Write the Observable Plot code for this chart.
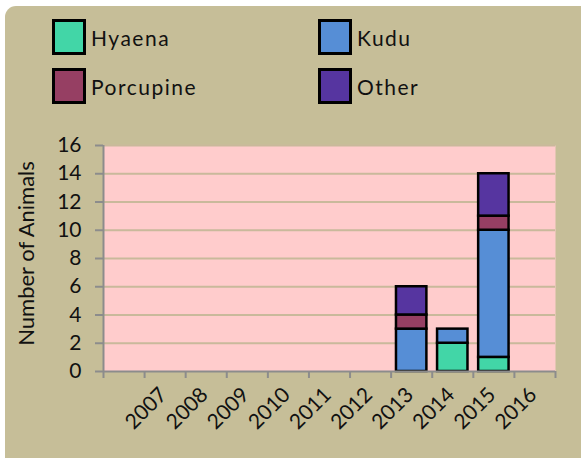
<!DOCTYPE html>
<html>
<head>
<meta charset="utf-8">
<script src="https://cdn.jsdelivr.net/npm/d3@7"></script>
<script src="https://cdn.jsdelivr.net/npm/@observablehq/plot@0.6"></script>
<style>
  html, body { margin: 0; padding: 0; background: #ffffff; width: 581px; height: 458px; overflow: hidden; }
  #panel { position: absolute; left: 5px; top: 6px; width: 576px; height: 452px; background: #C6BE98; border-radius: 11px 0 0 0; }
  #chart { position: absolute; left: 0; top: 0; }
  .lg { position: absolute; display: flex; align-items: center; font-family: Lato, "Open Sans", sans-serif; font-size: 21px; letter-spacing: 1.5px; color: #111; }
  .sw { width: 28px; height: 30px; border: 3px solid #000; margin-right: 5px; }
</style>
</head>
<body>
<div id="panel"></div>
<div id="legend"></div>
<div id="chart"></div>
<script>
const years = ["", "2007", "2008", "2009", "2010", "2011", "2012", "2013", "2014", "2015", "2016"];
const seriesNames = ["Hyaena", "Kudu", "Porcupine", "Other"];
const seriesColors = ["#42D6A7", "#568ED6", "#963F63", "#5635A0"];
const hyaena    = [0, 0, 0, 0, 0, 0, 0, 0, 2, 1, 0];
const kudu      = [0, 0, 0, 0, 0, 0, 0, 3, 1, 9, 0];
const porcupine = [0, 0, 0, 0, 0, 0, 0, 1, 0, 1, 0];
const other     = [0, 0, 0, 0, 0, 0, 0, 2, 0, 3, 0];
const yTicks = [0, 2, 4, 6, 8, 10, 12, 14, 16];

const seriesValues = [hyaena, kudu, porcupine, other];
const rows = [];
years.forEach((yr, i) => {
  let cum = 0;
  seriesValues.forEach((vals, s) => {
    const v = vals[i];
    if (v > 0) rows.push({i, series: seriesNames[s], y1: cum, y2: cum + v});
    cum += v;
  });
});
const labelRows = years.map((label, i) => ({i, label})).filter(d => d.label !== "");

// legend (HTML)
const legendPos = [[52, 19], [318, 19], [52, 68], [318, 68]];
const lg = document.getElementById("legend");
seriesNames.forEach((name, k) => {
  const div = document.createElement("div");
  div.className = "lg";
  div.style.left = legendPos[k][0] + "px";
  div.style.top = legendPos[k][1] + "px";
  const sw = document.createElement("div");
  sw.className = "sw";
  sw.style.background = seriesColors[k];
  const t = document.createElement("span");
  t.textContent = name;
  div.appendChild(sw);
  div.appendChild(t);
  lg.appendChild(div);
});

const gray = "#8C8C8C";
const chart = Plot.plot({
  width: 581,
  height: 458,
  marginLeft: 103,
  marginRight: 26,
  marginTop: 145,
  marginBottom: 87,
  style: {background: "transparent", fontFamily: "Lato, 'Open Sans', sans-serif", fontSize: "21px", color: "#111", overflow: "visible"},
  x: {type: "linear", domain: [0, years.length], axis: null},
  y: {domain: [0, 16], axis: null},
  color: {domain: seriesNames, range: seriesColors},
  marks: [
    Plot.frame({fill: "#FFCCCC", stroke: null}),
    Plot.gridY({ticks: yTicks.slice(1), stroke: "#C9B99B", strokeOpacity: 1, strokeWidth: 2}),
    Plot.rect(rows, {x1: d => d.i + 0.13, x2: d => d.i + 0.87, y1: "y1", y2: "y2", fill: "series", stroke: "#000", strokeWidth: 2.5}),
    Plot.ruleX([0], {stroke: gray, strokeWidth: 2}),
    Plot.ruleY([0], {stroke: gray, strokeWidth: 2}),
    Plot.axisY({ticks: yTicks, tickSize: 8, tickPadding: 14, stroke: gray, strokeWidth: 2, label: null, fontSize: 21}),
    Plot.axisX({ticks: d3.range(0, years.length + 1), tickFormat: () => "", tickSize: 7, stroke: gray, strokeWidth: 2, label: null}),
    Plot.text(labelRows, {x: d => d.i + 0.5, y: () => 0, text: "label", rotate: -45, textAnchor: "middle", lineAnchor: "middle", dx: -19, dy: 37, fontSize: 21, fill: "#111"}),
    Plot.text(["Number of Animals"], {frameAnchor: "left", text: d => d, rotate: -90, textAnchor: "middle", lineAnchor: "middle", dx: -77, dy: -5, fontSize: 22, fill: "#111"})
  ]
});
document.getElementById("chart").appendChild(chart);
</script>
</body>
</html>
